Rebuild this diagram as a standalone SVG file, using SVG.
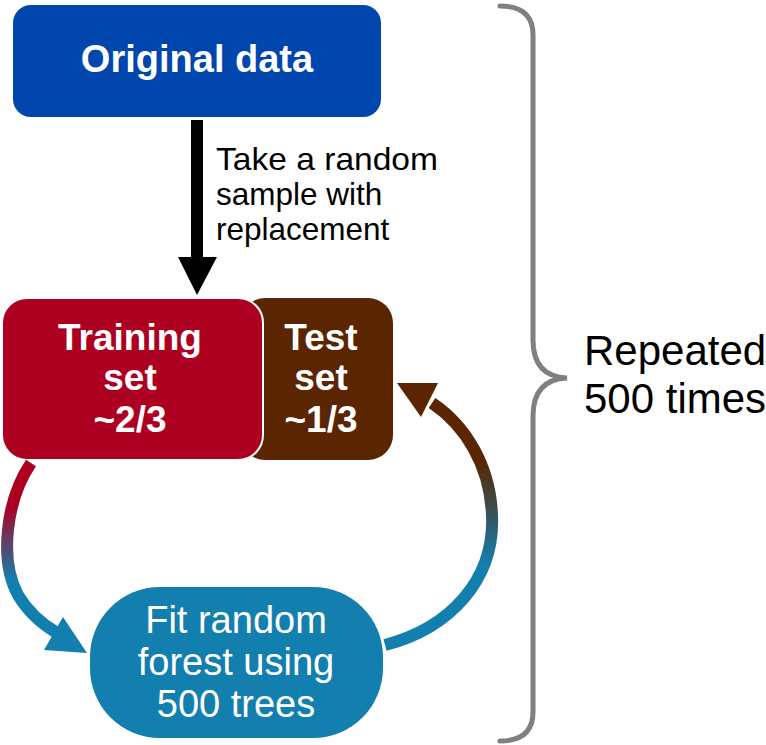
<svg xmlns="http://www.w3.org/2000/svg" width="766" height="745" viewBox="0 0 766 745">
<style>
.bold{font-family:"Liberation Sans",Arial,sans-serif;font-weight:bold;fill:#fff;text-anchor:middle}
.reg{font-family:"Liberation Sans",Arial,sans-serif;fill:#000}
.wht{font-family:"Liberation Sans",Arial,sans-serif;fill:#fff;text-anchor:middle}
</style>
<defs>
<linearGradient id="gl" gradientUnits="userSpaceOnUse" x1="0" y1="505" x2="0" y2="580">
<stop offset="0" stop-color="#ad0020"/><stop offset="1" stop-color="#137fae"/>
</linearGradient>
<linearGradient id="gr" gradientUnits="userSpaceOnUse" x1="0" y1="460" x2="0" y2="565">
<stop offset="0" stop-color="#5a2500"/><stop offset="1" stop-color="#137fae"/>
</linearGradient>
</defs>
<rect width="766" height="745" fill="#fff"/>
<g id="original">
<rect x="13" y="5" width="368" height="112" rx="18" fill="#0046ad"/>
<text class="bold" x="197" y="72" font-size="38">Original data</text>
</g>
<g id="test">
<rect x="240" y="298" width="153" height="162" rx="25" fill="#5a2500"/>
<text class="bold" x="321" y="350" font-size="37">Test</text>
<text class="bold" x="321" y="390" font-size="37">set</text>
<text class="bold" x="321" y="432" font-size="37">~1/3</text>
</g>
<g id="training">
<rect x="2" y="298" width="261" height="162" rx="25" fill="#ad0020" stroke="#fff" stroke-width="2"/>
<text class="bold" x="130" y="350" font-size="37">Training</text>
<text class="bold" x="130" y="390" font-size="37">set</text>
<text class="bold" x="130" y="432" font-size="37">~2/3</text>
</g>
<g id="fit">
<rect x="90" y="587" width="293" height="151" rx="70" fill="#137fae"/>
<text class="wht" x="236" y="633" font-size="38">Fit random</text>
<text class="wht" x="236" y="675" font-size="38">forest using</text>
<text class="wht" x="236" y="717" font-size="38">500 trees</text>
</g>
<g id="connectors">
<rect x="191" y="120" width="12" height="140" fill="#000"/>
<polygon points="178,257 217,257 197,295" fill="#000"/>
<path d="M 31 463 C 6 500, -1 560, 18 595 C 28 612, 42 624, 57 633" fill="none" stroke="url(#gl)" stroke-width="12"/>
<polygon points="87,653 44,650 63,617" fill="#137fae"/>
<path d="M 385 645 C 450 628, 495 580, 492 515 C 490 465, 465 425, 432 403" fill="none" stroke="url(#gr)" stroke-width="12"/>
<polygon points="397,383 438,383 421,417" fill="#5a2500"/>
</g>
<text class="reg" x="216" y="170" font-size="31.5" textLength="222" lengthAdjust="spacingAndGlyphs">Take a random</text>
<text class="reg" x="216" y="205" font-size="31.5">sample with</text>
<text class="reg" x="216" y="240" font-size="31.5">replacement</text>
<g id="brace">
<path d="M 500 6 C 520 6, 533 14, 533 35 L 533 340 C 533 365, 545 377, 567 378 C 545 379, 533 391, 533 416 L 533 712 C 533 733, 520 741, 500 741" fill="none" stroke="#808080" stroke-width="5" stroke-linecap="round"/>
<text class="reg" x="584" y="365" font-size="42">Repeated</text>
<text class="reg" x="584" y="413" font-size="42">500 times</text>
</g>
</svg>
